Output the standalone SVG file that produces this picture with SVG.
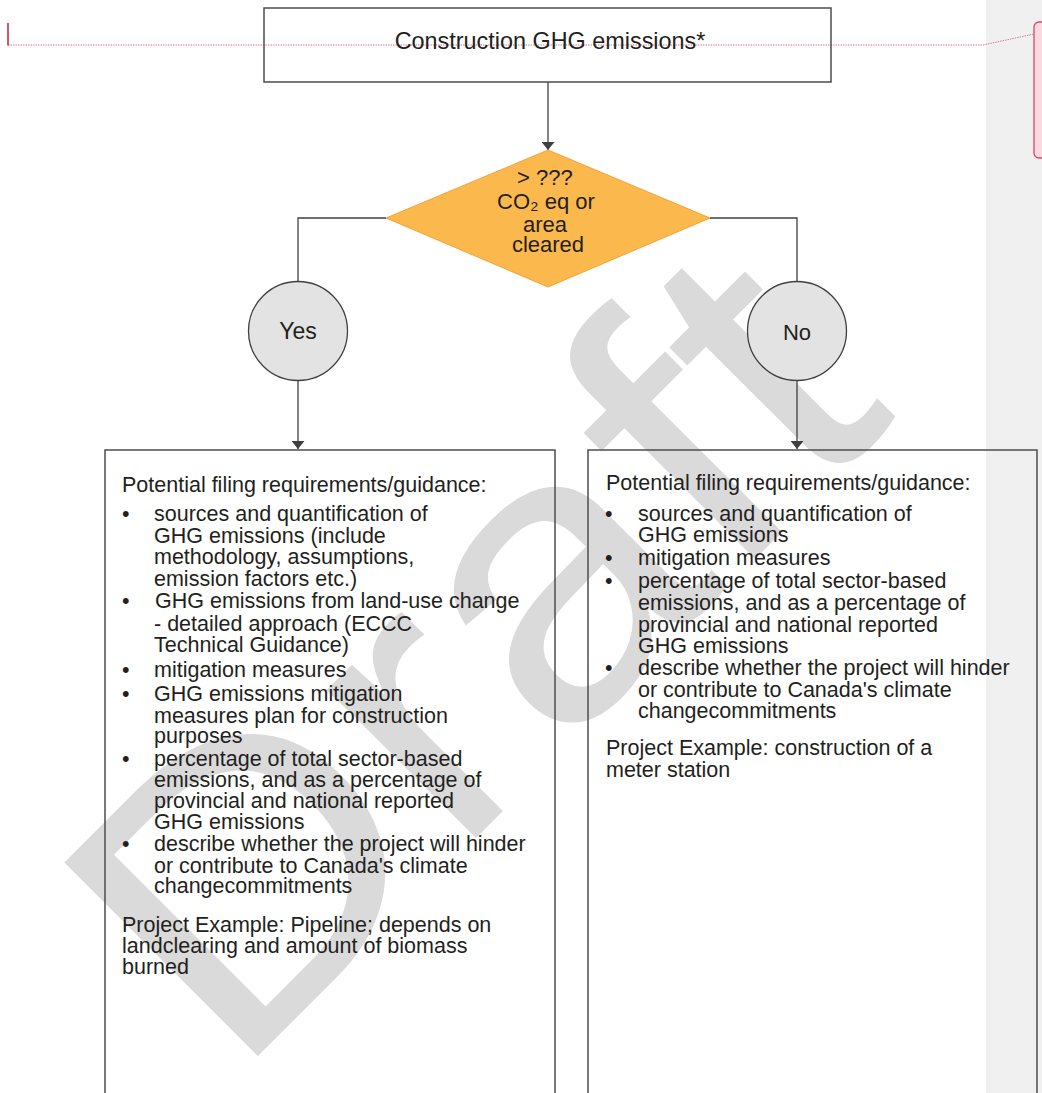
<svg xmlns="http://www.w3.org/2000/svg" width="1042" height="1093" viewBox="0 0 1042 1093">
<style>
  .t{font-family:"Liberation Sans",Arial,sans-serif;fill:#231f20}
  .body{font-size:21.5px}
  .conn{stroke:#404040;stroke-width:1.3;fill:none}
  .box{fill:none;stroke:#4d4d4d;stroke-width:1.5}
  .circ{fill:#e3e3e3;stroke:#404040;stroke-width:1.3}
</style>
<defs>
  <marker id="arr" viewBox="0 0 10 10" preserveAspectRatio="none" refX="10" refY="5" markerWidth="8" markerHeight="13" orient="auto" markerUnits="userSpaceOnUse">
    <path d="M0,0 L10,5 L0,10 z" fill="#404040"/>
  </marker>
</defs>
<rect x="0" y="0" width="1042" height="1093" fill="#ffffff"/>
<rect x="986" y="0" width="56" height="1093" fill="#f0f0f0"/>

<text transform="translate(232.7,1081.3) rotate(-45) scale(1.092,1)" font-family="'Liberation Sans',Arial,sans-serif" font-size="398" fill="#dadada">Draft</text>

<g id="comment">
  <polyline points="8,45 983,45 1034,34" fill="none" stroke="#d87890" stroke-width="1" stroke-dasharray="1.5 1"/>
  <line x1="8" y1="23" x2="8" y2="45.5" stroke="#c41e3a" stroke-width="1.5"/>
  <rect x="1034" y="22" width="20" height="136" rx="5" fill="#fbd9e1" stroke="#d6496e" stroke-width="1.3"/>
</g>

<g id="connectors">
  <path class="conn" d="M548,82 V150" marker-end="url(#arr)"/>
  <path class="conn" d="M386,218 H298 V281.5"/>
  <path class="conn" d="M710,218 H797 V281.5"/>
  <path class="conn" d="M298,380.5 V449" marker-end="url(#arr)"/>
  <path class="conn" d="M797,380.5 V449" marker-end="url(#arr)"/>
</g>

<g id="n-start">
  <rect class="box" x="264" y="8" width="567" height="74"/>
  <text class="t" x="550" y="49" font-size="23.4" text-anchor="middle">Construction GHG emissions*</text>
</g>

<g id="n-decision">
  <polygon points="548,150 710,218 548,287 386,218" fill="#fbb84c" stroke="#f5a23a" stroke-width="1"/>
  <text class="t" font-size="22" text-anchor="middle">
    <tspan x="548" y="185">&gt; ???</tspan>
    <tspan x="549" y="209">CO₂ eq or</tspan>
    <tspan x="548" y="232">area</tspan>
    <tspan x="548" y="252">cleared</tspan>
  </text>
</g>

<g id="n-yes">
  <circle class="circ" cx="298" cy="331" r="49.5"/>
  <text class="t" x="298" y="338.5" font-size="23" text-anchor="middle">Yes</text>
</g>

<g id="n-no">
  <circle class="circ" cx="797" cy="331" r="49.5"/>
  <text class="t" x="797" y="339.5" font-size="22" text-anchor="middle">No</text>
</g>

<g id="n-yes-req">
  <rect class="box" x="105" y="450" width="450" height="660"/>
  <text class="t body">
    <tspan x="122" y="492">Potential filing requirements/guidance:</tspan>
    <tspan x="122" y="521">•</tspan><tspan x="154" y="521">sources and quantification of</tspan>
    <tspan x="154" y="543">GHG emissions (include</tspan>
    <tspan x="154" y="564">methodology, assumptions,</tspan>
    <tspan x="154" y="586">emission factors etc.)</tspan>
    <tspan x="122" y="608">•</tspan><tspan x="155" y="608">GHG emissions from land-use change</tspan>
    <tspan x="154" y="631">- detailed approach (ECCC</tspan>
    <tspan x="154" y="652">Technical Guidance)</tspan>
    <tspan x="122" y="677">•</tspan><tspan x="154" y="677">mitigation measures</tspan>
    <tspan x="122" y="701">•</tspan><tspan x="154" y="701">GHG emissions mitigation</tspan>
    <tspan x="154" y="723">measures plan for construction</tspan>
    <tspan x="154" y="743">purposes</tspan>
    <tspan x="122" y="766">•</tspan><tspan x="154" y="766">percentage of total sector-based</tspan>
    <tspan x="154" y="787">emissions, and as a percentage of</tspan>
    <tspan x="154" y="808">provincial and national reported</tspan>
    <tspan x="154" y="829">GHG emissions</tspan>
    <tspan x="122" y="851">•</tspan><tspan x="154" y="851">describe whether the project will hinder</tspan>
    <tspan x="154" y="873">or contribute to Canada's climate</tspan>
    <tspan x="154" y="893">changecommitments</tspan>
    <tspan x="122" y="932">Project Example: Pipeline; depends on</tspan>
    <tspan x="122" y="953">landclearing and amount of biomass</tspan>
    <tspan x="122" y="974">burned</tspan>
  </text>
</g>

<g id="n-no-req">
  <rect class="box" x="588" y="450" width="449" height="660"/>
  <text class="t body">
    <tspan x="606" y="490">Potential filing requirements/guidance:</tspan>
    <tspan x="605" y="521">•</tspan><tspan x="638" y="521">sources and quantification of</tspan>
    <tspan x="638" y="542">GHG emissions</tspan>
    <tspan x="605" y="565">•</tspan><tspan x="638" y="565">mitigation measures</tspan>
    <tspan x="605" y="588">•</tspan><tspan x="638" y="588">percentage of total sector-based</tspan>
    <tspan x="638" y="610">emissions, and as a percentage of</tspan>
    <tspan x="638" y="632">provincial and national reported</tspan>
    <tspan x="638" y="653">GHG emissions</tspan>
    <tspan x="605" y="675">•</tspan><tspan x="638" y="675">describe whether the project will hinder</tspan>
    <tspan x="638" y="697">or contribute to Canada's climate</tspan>
    <tspan x="638" y="718">changecommitments</tspan>
    <tspan x="606" y="755">Project Example: construction of a</tspan>
    <tspan x="606" y="777">meter station</tspan>
  </text>
</g>
</svg>
